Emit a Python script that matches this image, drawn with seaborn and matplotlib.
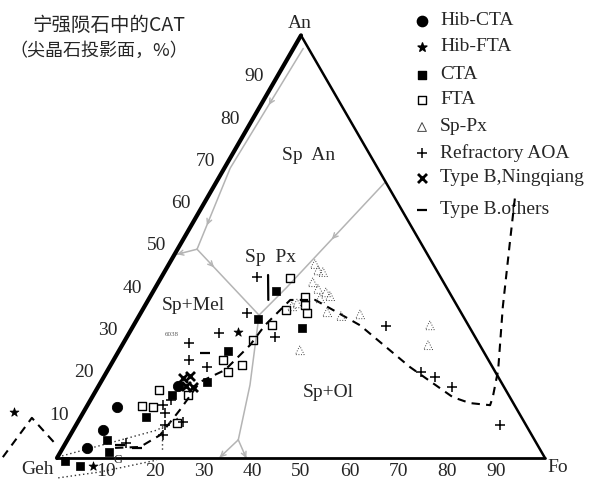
import numpy as np
import pandas as pd
import matplotlib
matplotlib.use("Agg")
import matplotlib.pyplot as plt
import seaborn as sns

sns.set_theme(style="white")
plt.rcParams["font.family"] = ["Liberation Serif", "Noto Sans CJK SC", "DejaVu Sans"]

# ---- compositions: (An %, Fo %), Geh = 100 - An - Fo ----
hib_cta_an = [12.1, 6.6, 2.4, 17.0]
hib_cta_fo = [6.3, 6.1, 5.0, 16.3]

hib_fta_an = [10.9, -1.9, 29.8]
hib_fta_fo = [-14.2, 8.3, 22.2]

cta_an = [-0.7, -1.9, 1.4, 4.3, 9.7, 14.9, 18.0, 25.3, 32.9, 39.5, 30.7]
cta_fo = [2.0, 5.7, 9.9, 8.1, 13.4, 16.1, 21.8, 22.4, 24.8, 25.1, 34.8]

fta_an = [12.3, 16.1, 14.9, 23.2, 27.9, 31.4, 35.0, 42.6, 38.1, 36.2, 34.3, 12.1, 8.3, 22.0, 20.3]
fta_fo = [11.3, 12.9, 19.4, 22.4, 26.2, 28.3, 29.4, 26.5, 31.8, 32.7, 34.1, 13.6, 20.5, 26.9, 24.9]

sppx_an = [44.4, 44.0, 41.6, 40.0, 39.2, 37.8, 38.3, 36.6, 25.5, 33.6, 34.0, 31.4, 26.7, 34.5, 45.9, 35.9]
sppx_fo = [31.3, 32.5, 31.6, 33.5, 35.5, 35.0, 36.8, 30.9, 37.0, 41.4, 45.1, 60.7, 62.7, 38.1, 29.9, 30.2]

aoa_an = [42.8, 34.3, 29.6, 27.2, 23.2, 21.5, 28.6, 12.5, 10.6, 7.8, 5.4, 3.5, 8.5, 13.7,
          31.2, 20.3, 19.1, 16.8, 7.8]
aoa_fo = [19.6, 21.8, 18.4, 13.5, 15.5, 20.0, 30.4, 15.5, 16.8, 18.2, 19.0, 12.4, 21.6, 16.5,
          51.8, 64.4, 67.9, 72.5, 86.9]

ning_an = [18.9, 19.4, 16.8, 17.0]
ning_fo = [16.4, 17.6, 19.5, 17.9]

other_an = [3.1, 2.4, 24.8]
other_fo = [11.4, 15.2, 17.9]

# trend paths
dash_an = [2.4, 2.6, 5.4, 11.4, 18.0, 20.8, 26.7, 31.4, 37.4, 37.4, 35.0, 31.4, 21.5,
           14.4, 13.0, 12.5, 14.4, 20.8, 35.7, 51.5, 62.2]
dash_fo = [10.7, 15.7, 18.4, 19.5, 20.3, 24.0, 26.2, 26.9, 29.1, 34.2, 39.1, 46.4, 61.6,
           73.9, 78.1, 82.5, 82.1, 80.0, 73.5, 67.1, 62.8]
ldash_an = [0.2, 9.5, 3.5]
ldash_fo = [-11.2, -9.9, -2.2]
dot1_an = [0.5, 6.6, 9.5]
dot1_fo = [0.8, 17.2, 20.1]
dot2_an = [7.3, 1.9]
dot2_fo = [17.9, 20.6]
dot3_an = [-4.7, -3.3, -0.5]
dot3_fo = [2.6, 10.5, 20.7]
bar_an = [43.3, 37.4]
bar_fo = [21.6, 24.6]

# phase boundaries (liquidus field boundaries)
bnd_an = [[96.9, 68.6, 49.4], [49.4, 48.2], [49.4, 33.8],
          [65.2, 40.4, 33.8, 17.3, 4.3], [4.3, 0.2], [4.3, 0.2]]
bnd_fo = [[2.0, 1.2, 4.0], [4.0, 0.5], [4.0, 24.5],
          [34.6, 26.9, 24.5, 30.9, 35.0], [35.0, 33.3], [35.0, 38.6]]
# arrows: (boundary index, segment index, position along segment)
bnd_arrows = [(0, 0, 0.45), (0, 1, 0.67), (1, 0, 0.85), (2, 0, 0.24),
              (3, 0, 0.52), (4, 0, 0.9), (5, 0, 0.9)]

tick_values = [10, 20, 30, 40, 50, 60, 70, 80, 90]

legend_labels = ["Hib-CTA", "Hib-FTA", "CTA", "FTA", "Sp-Px", "Refractory AOA",
                 "Type B,Ningqiang", "Type B.others"]

regions = ["Sp  An", "Sp  Px", "Sp+Mel", "Sp+Ol"]
region_an = [71.6, 47.5, 36.2, 15.4]
region_fo = [15.8, 19.9, 9.8, 47.8]

SQ3 = np.sqrt(3) / 2


def to_xy(an, fo):
    an = np.asarray(an, float) / 100.0
    fo = np.asarray(fo, float) / 100.0
    return fo + an / 2.0, an * SQ3


def px(x, y):
    """figure pixel position -> axes data position"""
    return (x - 57) / 488.0, (458 - y) / 488.0


fig = plt.figure(figsize=(6.07, 4.82), dpi=100)
ax = fig.add_axes([0, 0, 1, 1])
ax.set_xlim(-57 / 488.0, 550 / 488.0)
ax.set_ylim(-24 / 488.0, 458 / 488.0)
ax.axis("off")

GRAY = "#b4b4b4"
FS = 14

# triangle frame
vx, vy = to_xy([0, 100, 0], [0, 0, 100])
ax.plot([vx[0], vx[1]], [vy[0], vy[1]], color="black", lw=3.0, solid_capstyle="round", zorder=3)
ax.plot([vx[0], vx[2]], [vy[0], vy[2]], color="black", lw=2.0, zorder=3)
ax.plot([vx[1], vx[2]], [vy[1], vy[2]], color="black", lw=1.8, zorder=3)

# phase boundaries
for a, f in zip(bnd_an, bnd_fo):
    x, y = to_xy(a, f)
    sns.lineplot(x=x, y=y, sort=False, estimator=None, color=GRAY, lw=1.1, ax=ax, zorder=2)
for bi, si, t in bnd_arrows:
    x, y = to_xy(bnd_an[bi], bnd_fo[bi])
    p0 = np.array([x[si], y[si]])
    p1 = np.array([x[si + 1], y[si + 1]])
    d = (p1 - p0) / np.hypot(*(p1 - p0))
    c = p0 + t * (p1 - p0)
    ax.annotate("", xy=c + d * 0.012, xytext=c - d * 0.012,
                arrowprops=dict(arrowstyle="->", color=GRAY, lw=1.0, mutation_scale=9),
                zorder=2)

# trend paths
x, y = to_xy(dash_an, dash_fo)
sns.lineplot(x=x, y=y, sort=False, estimator=None, color="black", lw=1.5,
             linestyle=(0, (4, 3)), ax=ax, zorder=4)
x, y = to_xy(ldash_an, ldash_fo)
sns.lineplot(x=x, y=y, sort=False, estimator=None, color="black", lw=1.5,
             linestyle=(0, (4, 3)), ax=ax, zorder=4)
for a, f in [(dot1_an, dot1_fo), (dot2_an, dot2_fo), (dot3_an, dot3_fo)]:
    x, y = to_xy(a, f)
    sns.lineplot(x=x, y=y, sort=False, estimator=None, color="#333333", lw=1.0,
                 linestyle=(0, (1, 2)), ax=ax, zorder=4)
x, y = to_xy(bar_an, bar_fo)
ax.plot(x, y, color="black", lw=1.6, zorder=5)

# data groups
styles = [
    (hib_cta_an, hib_cta_fo, dict(marker="o", s=55, color="black", edgecolor="black")),
    (hib_fta_an, hib_fta_fo, dict(marker="*", s=45, color="black", edgecolor="black")),
    (cta_an, cta_fo, dict(marker="s", s=40, color="black", edgecolor="black")),
    (fta_an, fta_fo, dict(marker="s", s=36, facecolor="none", edgecolor="black", linewidth=1.0)),
    (sppx_an, sppx_fo, dict(marker="^", s=40, facecolor="none", edgecolor="#444444",
                            linewidth=0.7, linestyle=":")),
    (aoa_an, aoa_fo, dict(marker="+", s=60, color="black", linewidth=1.1)),
    (ning_an, ning_fo, dict(marker="x", s=42, color="black", linewidth=2.0)),
    (other_an, other_fo, dict(marker="_", s=60, color="black", linewidth=1.6)),
]
for a, f, kw in styles:
    x, y = to_xy(a, f)
    df = pd.DataFrame({"x": x, "y": y})
    sns.scatterplot(data=df, x="x", y="y", ax=ax, zorder=6, legend=False, **kw)

# axis tick labels
for v in tick_values:
    x, y = to_xy(v, 0)
    ax.annotate(str(v), (x, y), xytext=(-16, 0.5), textcoords="offset points",
                ha="center", va="center", fontsize=FS)
    x, y = to_xy(0, v)
    ax.annotate(str(v), (x, y), xytext=(0, -10), textcoords="offset points",
                ha="center", va="center", fontsize=FS)

# vertex labels
ax.text(*px(300, 24), "An", ha="center", va="center", fontsize=FS)
ax.text(*px(38, 469), "Geh", ha="center", va="center", fontsize=FS)
ax.text(*px(558, 467), "Fo", ha="center", va="center", fontsize=FS)

# field labels
for name, a, f in zip(regions, region_an, region_fo):
    x, y = to_xy(a, f)
    ax.text(x, y, name, ha="center", va="center", fontsize=FS, zorder=7)

ax.text(*px(118, 460), "G", ha="center", va="center", fontsize=9)
ax.text(*px(172, 335), "6038", ha="center", va="center", fontsize=5, color="#555555")

# title
ax.text(*px(109, 25), "宁强陨石中的CAT", ha="center", va="center", fontsize=FS,
        family=["Noto Sans CJK SC", "DejaVu Sans"])
ax.text(*px(99, 51), "（尖晶石投影面，%）", ha="center", va="center", fontsize=13,
        family=["Noto Sans CJK SC", "DejaVu Sans"])

# legend
leg_y = [21, 47, 75, 100, 127, 153, 178, 210]
for (a, f, kw), lab, yy in zip(styles, legend_labels, leg_y):
    mx, my = px(422, yy)
    kw2 = dict(kw)
    kw2.pop("linestyle", None)
    ax.scatter([mx], [my], zorder=6, **kw2)
    ax.text(*px(440, yy), lab, ha="left", va="center", fontsize=FS)

fig.savefig("out.png", dpi=100)
